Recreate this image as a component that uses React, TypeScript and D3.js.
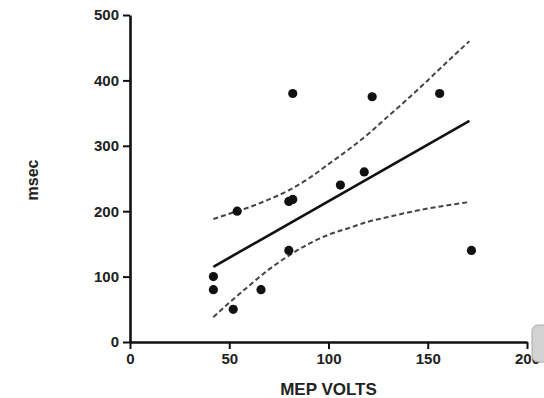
import { useEffect, useRef } from 'react';
import * as d3 from 'd3';

// scatter points (MEP volts, msec)
const voltsX = [42, 42, 52, 54, 66, 80, 80, 82, 82, 106, 118, 122, 156, 172];
const msecY = [100, 80, 50, 200, 80, 140, 215, 218, 380, 240, 260, 375, 380, 140];

// fitted line endpoints
const fitX = [42, 171];
const fitY = [115, 338];

// confidence band, read at these x positions
const bandX = [42, 50, 60, 70, 80, 90, 100, 110, 120, 130, 140, 150, 160, 171];
const bandUpper = [188, 196, 206, 218, 232, 250, 272, 294, 318, 345, 372, 400, 429, 460];
const bandLower = [38, 60, 86, 111, 132, 150, 164, 174, 184, 191, 198, 204, 209, 214];

const xTicks = [0, 50, 100, 150, 200];
const yTicks = [0, 100, 200, 300, 400, 500];

export default function App() {
    const svgRef = useRef<SVGSVGElement>(null);

    useEffect(() => {
        if (!svgRef.current) return;
        const svg = d3.select(svgRef.current);
        svg.selectAll('*').remove();

        const x = d3.scaleLinear().domain([0, 200]).range([130, 527]);
        const y = d3.scaleLinear().domain([0, 500]).range([342, 15]);
        const font = 'Liberation Sans, Arial, sans-serif';

        // Axes
        const xAxis = svg
            .append('g')
            .attr('transform', 'translate(0, 342)')
            .call(d3.axisBottom(x).tickValues(xTicks).tickSize(7).tickPadding(4).tickSizeOuter(0));
        const yAxis = svg
            .append('g')
            .attr('transform', 'translate(130, 0)')
            .call(d3.axisLeft(y).tickValues(yTicks).tickSize(7).tickPadding(4).tickSizeOuter(0));

        [xAxis, yAxis].forEach((g) => {
            g.select('.domain').attr('stroke', '#111').attr('stroke-width', 2.6);
            g.selectAll('.tick line').attr('stroke', '#111').attr('stroke-width', 2);
            g.selectAll('.tick text')
                .attr('fill', '#222')
                .style('font-family', font)
                .style('font-size', '15px')
                .style('font-weight', 'bold');
        });

        // Confidence band (dashed)
        const band = d3
            .line<number>()
            .x((_, i) => x(bandX[i]))
            .curve(d3.curveMonotoneX);
        [bandUpper, bandLower].forEach((vals) => {
            svg
                .append('path')
                .attr('d', band.y((d) => y(d))(vals))
                .attr('fill', 'none')
                .attr('stroke', '#444')
                .attr('stroke-width', 2)
                .attr('stroke-dasharray', '5,3');
        });

        // Fit line
        svg
            .append('line')
            .attr('x1', x(fitX[0]))
            .attr('y1', y(fitY[0]))
            .attr('x2', x(fitX[1]))
            .attr('y2', y(fitY[1]))
            .attr('stroke', '#111')
            .attr('stroke-width', 2.6);

        // Points
        svg
            .selectAll('.pt')
            .data(voltsX)
            .enter()
            .append('circle')
            .attr('class', 'pt')
            .attr('cx', (d) => x(d))
            .attr('cy', (_, i) => y(msecY[i]))
            .attr('r', 4.6)
            .attr('fill', '#111');

        // Axis titles
        svg
            .append('text')
            .attr('x', x(100))
            .attr('y', 395)
            .attr('text-anchor', 'middle')
            .style('font-family', font)
            .style('font-size', '17px')
            .style('font-weight', 'bold')
            .attr('fill', '#222')
            .text('MEP VOLTS');

        svg
            .append('text')
            .attr('transform', 'translate(38, 180) rotate(-90)')
            .attr('text-anchor', 'middle')
            .style('font-family', font)
            .style('font-size', '16px')
            .style('font-weight', 'bold')
            .attr('fill', '#222')
            .text('msec');

        // grey handle at right edge
        svg
            .append('rect')
            .attr('x', 532)
            .attr('y', 325)
            .attr('width', 22)
            .attr('height', 37)
            .attr('rx', 6)
            .attr('fill', '#d2d2d2')
            .attr('stroke', '#a8a8a8')
            .attr('stroke-width', 1);
    }, []);

    return (
        <svg
            ref={svgRef}
            width={544}
            height={398}
            style={{ position: 'fixed', left: 0, top: 0, background: '#fff' }}
        ></svg>
    );
}
